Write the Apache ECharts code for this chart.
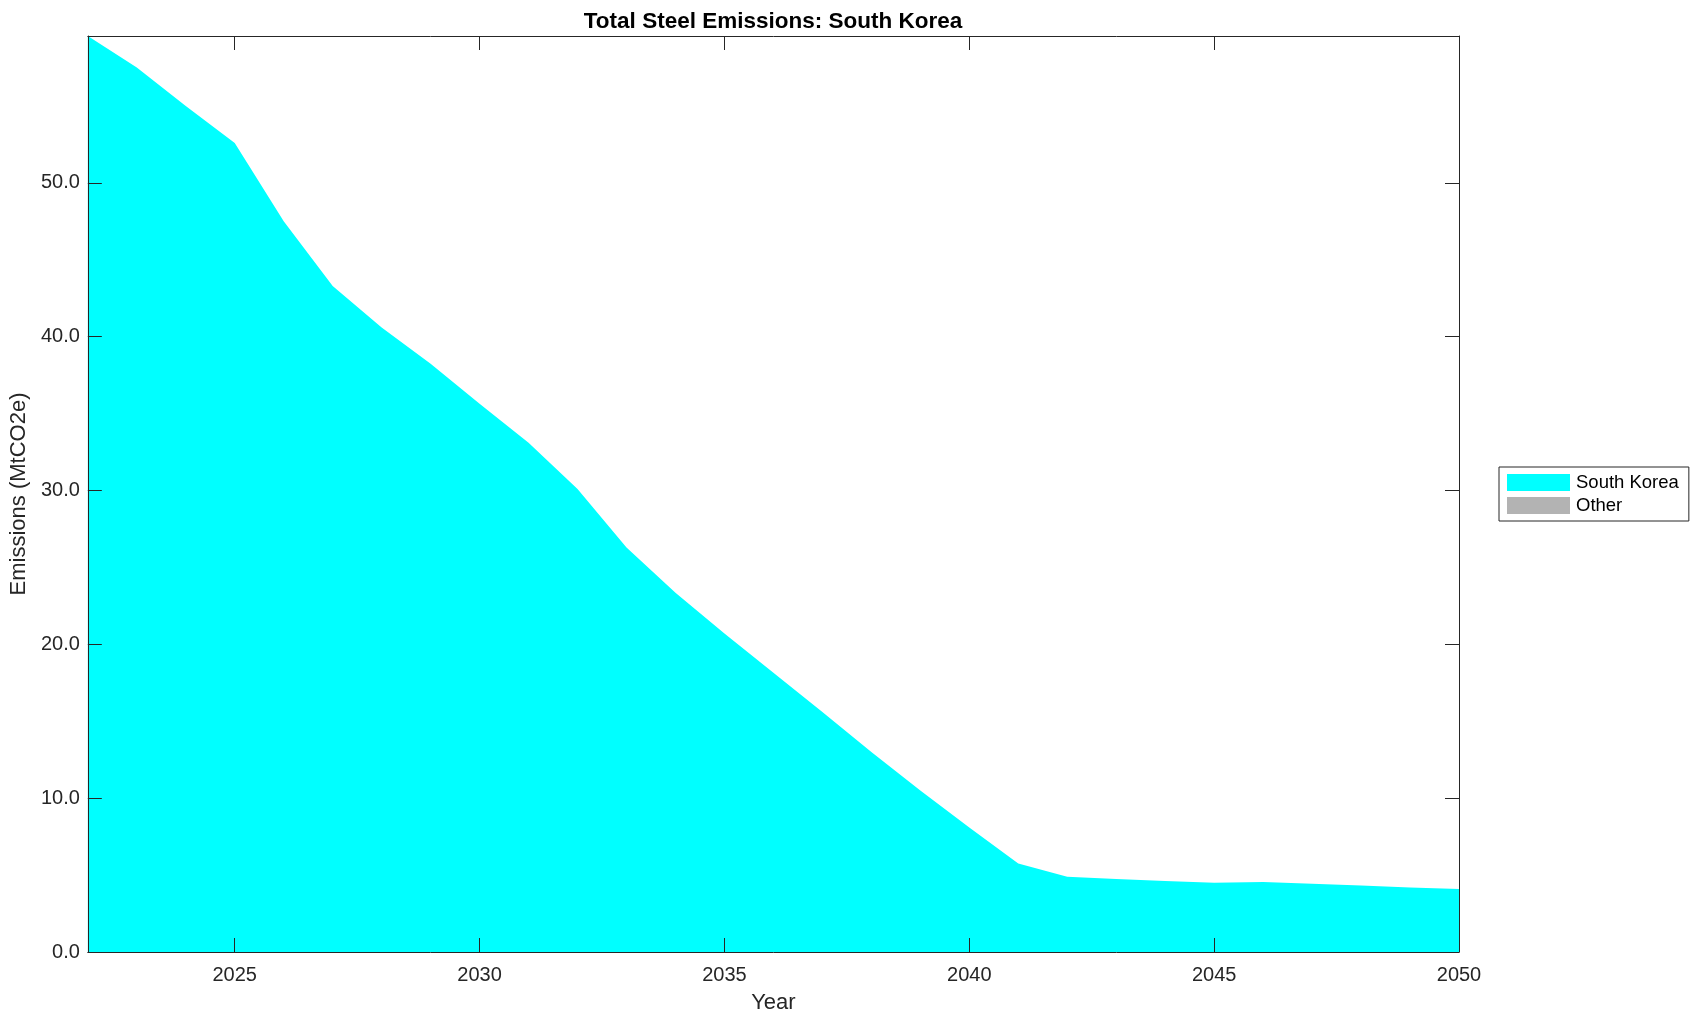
<!DOCTYPE html>
<html>
<head>
<meta charset="utf-8">
<script src="https://cdn.jsdelivr.net/npm/echarts@6/dist/echarts.min.js"></script>
<style>
  html, body { margin: 0; padding: 0; background: #fff; }
  #chart { width: 1701px; height: 1021px; }
</style>
</head>
<body>
<div id="chart"></div>
<script>
// years on the x axis
const years = [2022, 2023, 2024, 2025, 2026, 2027, 2028, 2029, 2030, 2031,
  2032, 2033, 2034, 2035, 2036, 2037, 2038, 2039, 2040, 2041,
  2042, 2043, 2044, 2045, 2046, 2047, 2048, 2049, 2050]
// MtCO2e
const southKorea = [59.55, 57.5, 55.0, 52.6, 47.5, 43.3, 40.6, 38.25, 35.65, 33.1,
  30.1, 26.3, 23.35, 20.7, 18.15, 15.6, 13.0, 10.5, 8.1, 5.75,
  4.9, 4.75, 4.62, 4.5, 4.55, 4.43, 4.32, 4.2, 4.1]
const other = years.map(() => 0)
const xTicks = [2025, 2030, 2035, 2040, 2045, 2050]
const yTicks = [0, 10, 20, 30, 40, 50]

const font = 'Liberation Sans, Arial, Helvetica, sans-serif'
const ink = '#262626'
const yMax = Math.max(...southKorea)

const chart = echarts.init(document.getElementById('chart'))

// box round the plot, drawn over the filled area
const frame = {
  z: 5,
  axisLine: { show: true, onZero: false, lineStyle: { color: ink, width: 1 } },
  splitLine: { show: false }
}

chart.setOption({
  animation: false,
  title: {
    text: 'Total Steel Emissions: South Korea',
    left: 773,
    top: 10,
    padding: 0,
    textAlign: 'center',
    textStyle: { fontFamily: font, fontSize: 22.5, fontWeight: 'bold', color: '#000' }
  },
  legend: {
    orient: 'vertical',
    left: 1499,
    top: 467,
    padding: [6, 10, 6, 8],
    itemGap: 4,
    itemWidth: 63,
    itemHeight: 17,
    borderColor: ink,
    borderWidth: 1,
    backgroundColor: '#fff',
    textStyle: { fontFamily: font, fontSize: 18.5, color: '#000', padding: [0, 0, 0, 1] },
    data: [
      { name: 'South Korea', icon: 'rect' },
      { name: 'Other', icon: 'rect' }
    ]
  },
  grid: { left: 87, right: 242, top: 36, bottom: 69 },
  xAxis: [
    {
      type: 'value', min: 2022, max: 2050,
      name: 'Year', nameLocation: 'middle', nameGap: 40,
      nameTextStyle: { fontFamily: font, fontSize: 22, color: ink },
      ...frame,
      axisTick: { show: true, inside: true, length: 14, customValues: xTicks, lineStyle: { color: ink } },
      axisLabel: {
        customValues: xTicks, margin: 13, fontFamily: font, fontSize: 20, color: ink,
        formatter: v => String(v)
      }
    },
    {
      type: 'value', min: 2022, max: 2050, position: 'top',
      ...frame,
      axisTick: { show: true, inside: true, length: 14, customValues: xTicks, lineStyle: { color: ink } },
      axisLabel: { show: false }
    }
  ],
  yAxis: [
    {
      type: 'value', min: 0, max: yMax,
      name: 'Emissions (MtCO2e)', nameLocation: 'middle', nameGap: 55,
      nameTextStyle: { fontFamily: font, fontSize: 22, color: ink },
      ...frame,
      axisTick: { show: true, inside: true, length: 14, customValues: yTicks, lineStyle: { color: ink } },
      axisLabel: {
        customValues: yTicks, margin: 8, fontFamily: font, fontSize: 20, color: ink,
        formatter: v => v.toFixed(1)
      }
    },
    {
      type: 'value', min: 0, max: yMax, position: 'right',
      ...frame,
      axisTick: { show: true, inside: true, length: 14, customValues: yTicks, lineStyle: { color: ink } },
      axisLabel: { show: false }
    }
  ],
  series: [
    {
      name: 'South Korea',
      type: 'line',
      stack: 'total',
      data: years.map((y, i) => [y, southKorea[i]]),
      showSymbol: false,
      color: '#00ffff',
      lineStyle: { width: 0 },
      areaStyle: { color: '#00ffff', opacity: 1 },
      z: 1
    },
    {
      name: 'Other',
      type: 'line',
      stack: 'total',
      data: years.map((y, i) => [y, other[i]]),
      showSymbol: false,
      color: '#b3b3b3',
      lineStyle: { width: 0 },
      areaStyle: { color: '#b3b3b3', opacity: 1 },
      z: 1
    }
  ]
})
</script>
</body>
</html>
